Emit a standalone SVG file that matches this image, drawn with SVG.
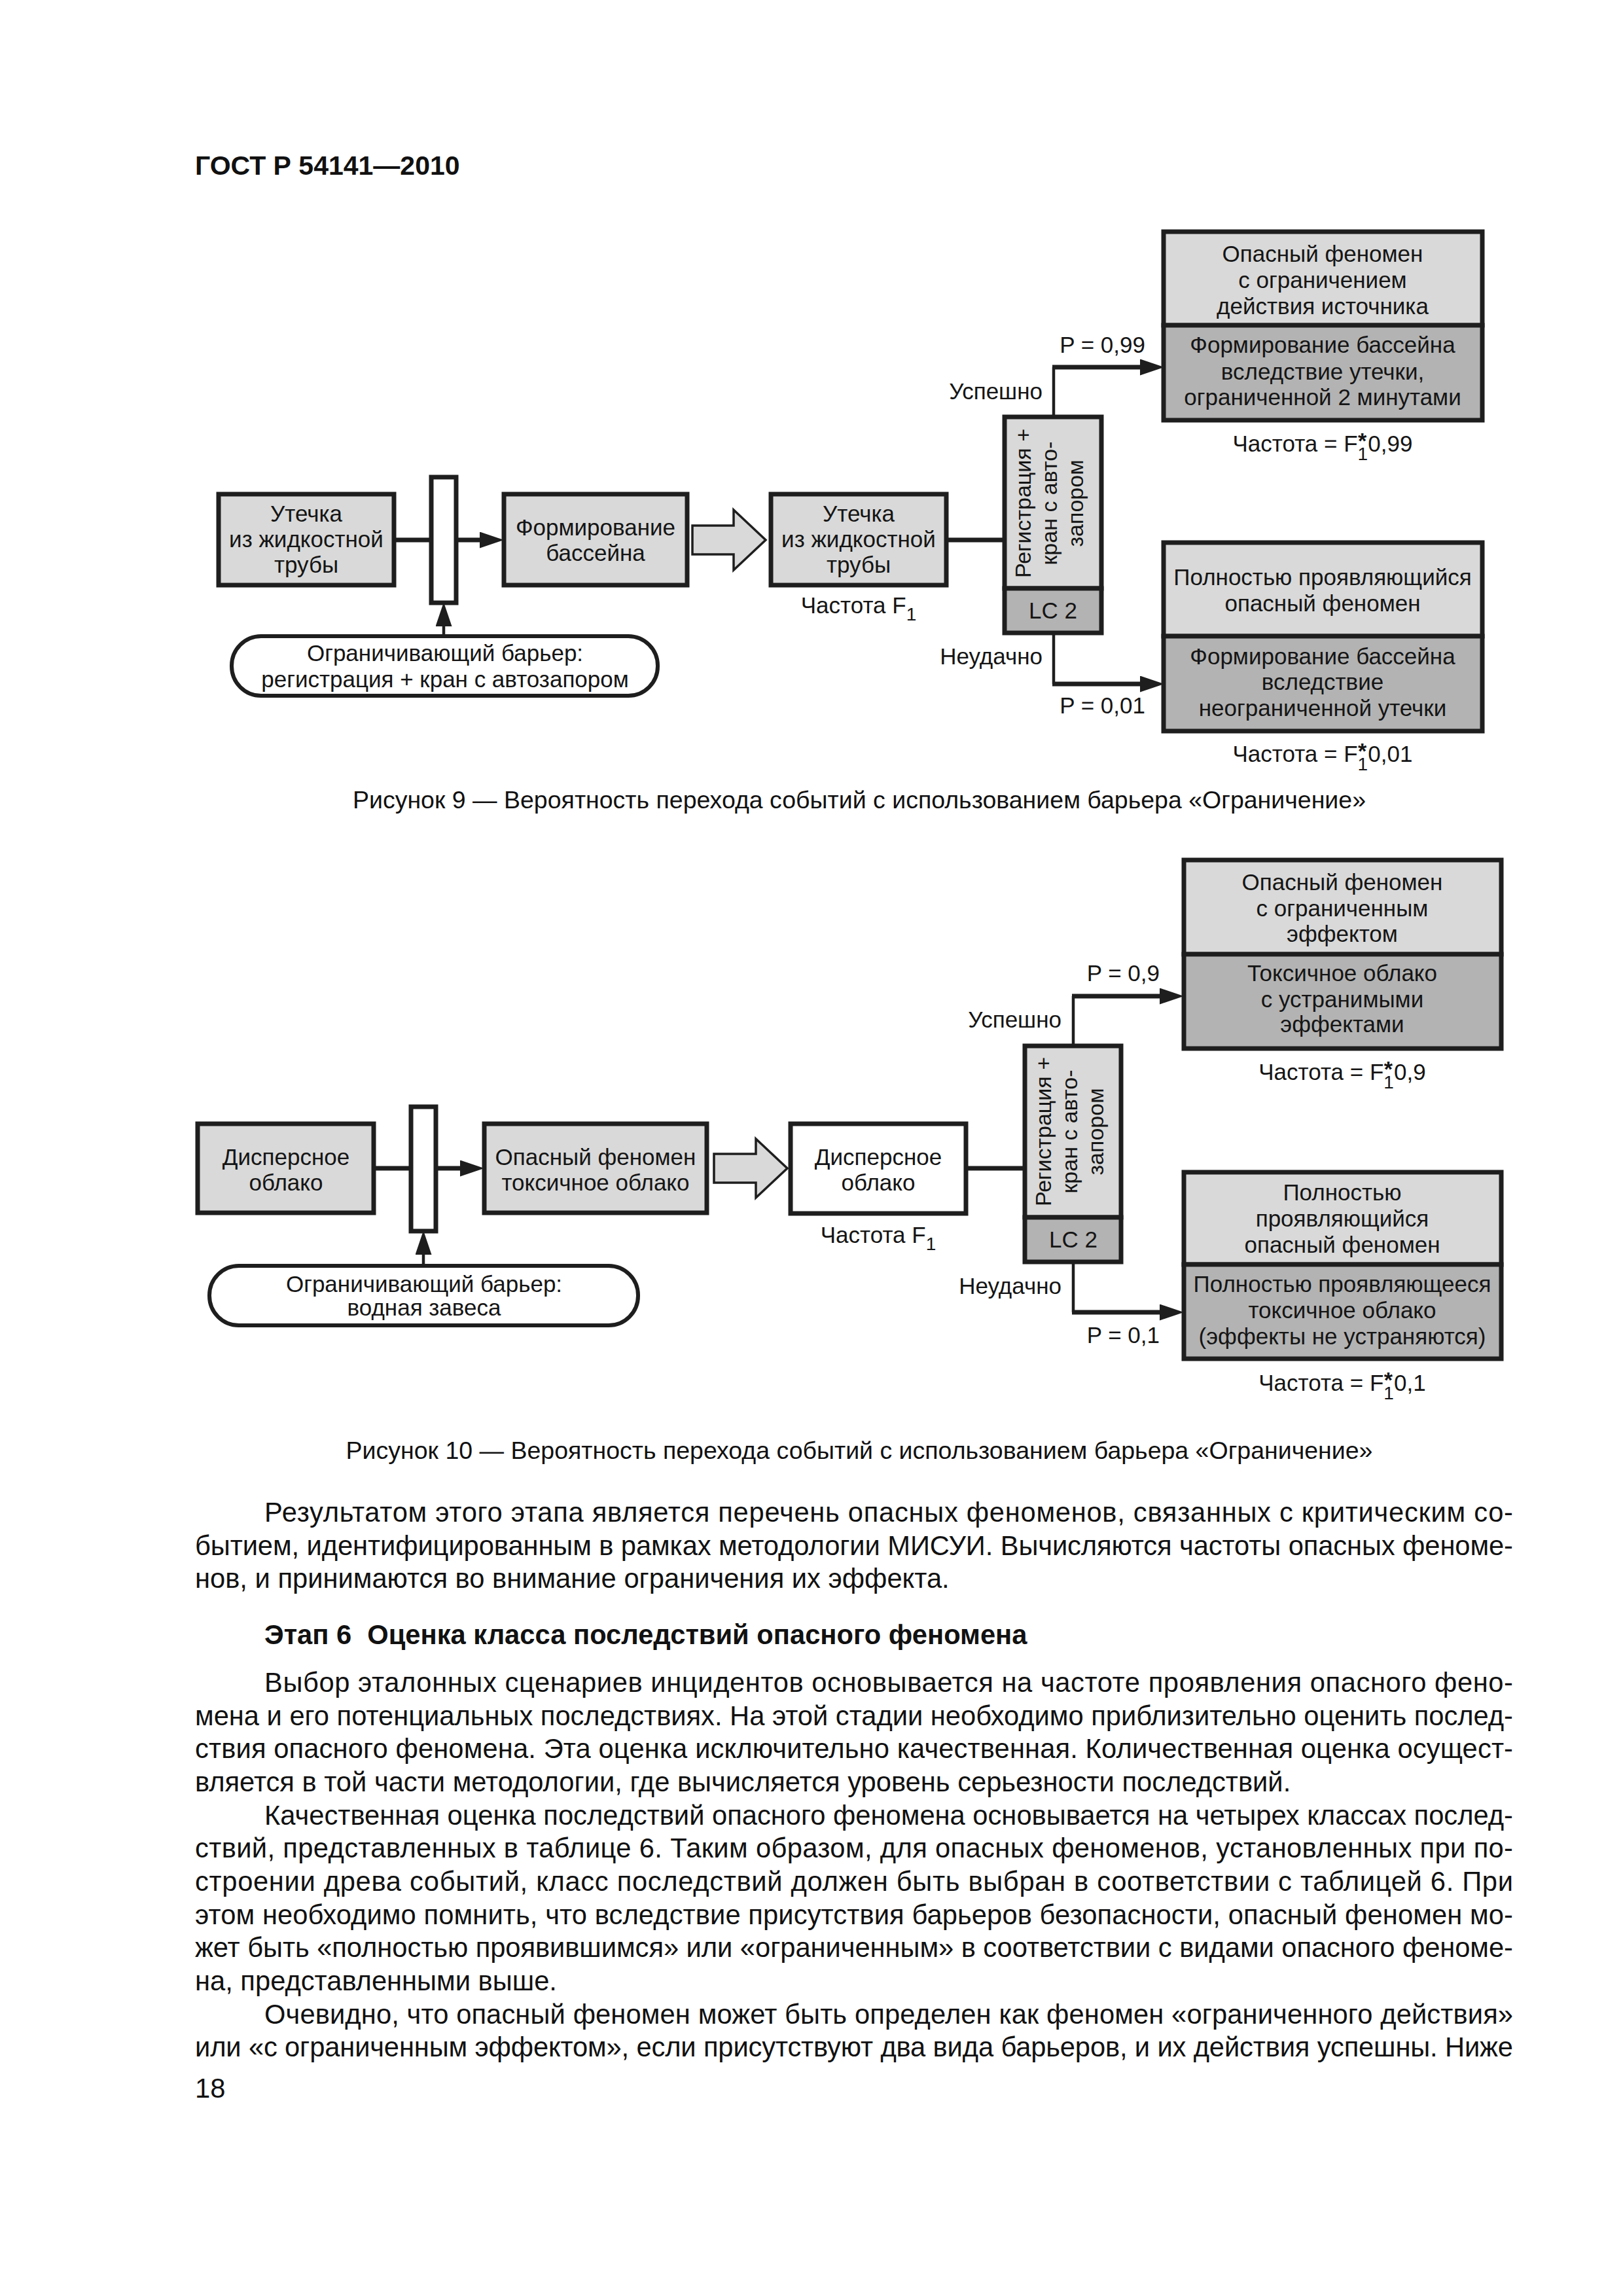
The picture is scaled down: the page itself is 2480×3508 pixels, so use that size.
<svg xmlns="http://www.w3.org/2000/svg" width="2480" height="3508" viewBox="0 0 2480 3508">
<defs>
<style>
text{font-family:"Liberation Sans",Arial,"DejaVu Sans",sans-serif;fill:#151515}
.f{font-size:35px;text-anchor:middle}
.r{font-size:35px;text-anchor:end}
.v{font-size:34px;text-anchor:middle}
.cap{font-size:37.5px;text-anchor:middle;fill:#111}
.body{font-size:41.7px;fill:#111}
.hd{font-size:41px;font-weight:bold;fill:#111}
.box{stroke:#1e1e1e;stroke-width:7}
.lt{fill:#d9d9d9}
.dk{fill:#b3b3b3}
.wh{fill:#fff}
.ln{fill:none;stroke:#1e1e1e;stroke-width:7}
.thin{fill:none;stroke:#1e1e1e;stroke-width:4.5}
.blk{fill:#d9d9d9;stroke:#1e1e1e;stroke-width:3.5}
.stad{fill:#fff;stroke:#1e1e1e;stroke-width:6}
.sub{font-size:28px}
.star{font-size:34px;font-weight:bold}
</style>
<marker id="ah" markerUnits="userSpaceOnUse" markerWidth="37" markerHeight="25" refX="4" refY="12.5" orient="auto" viewBox="0 0 37 25">
<path d="M0,0 L37,12.5 L0,25 Z" fill="#1e1e1e"/>
</marker>
</defs>
<rect width="2480" height="3508" fill="#fff"/>

<text class="hd" x="298" y="267">ГОСТ Р 54141—2010</text>

<g id="connectors">
<path class="ln" d="M602,825 H659"/>
<path class="ln" d="M697,825 H737" marker-end="url(#ah)"/>
<path class="thin" d="M678,972 V953" marker-end="url(#ah)"/>
<polygon class="blk" points="1058,803 1121,803 1121,779 1170,825 1121,871 1121,847 1058,847"/>
<path class="ln" d="M1446,825 H1535"/>
<path class="thin" d="M1610,637 V561"/>
<path class="ln" d="M1608,561 H1746" marker-end="url(#ah)"/>
<path class="thin" d="M1610,967 V1045"/>
<path class="ln" d="M1608,1045 H1746" marker-end="url(#ah)"/>

<path class="ln" d="M571,1785 H628"/>
<path class="ln" d="M666,1785 H707" marker-end="url(#ah)"/>
<path class="thin" d="M647,1934 V1913" marker-end="url(#ah)"/>
<polygon class="blk" points="1091,1763 1155,1763 1155,1740 1203,1785 1155,1830 1155,1807 1091,1807"/>
<path class="ln" d="M1476,1785 H1566"/>
<path class="thin" d="M1640,1598 V1522"/>
<path class="ln" d="M1638,1522 H1776" marker-end="url(#ah)"/>
<path class="thin" d="M1640,1928 V2005"/>
<path class="ln" d="M1638,2005 H1776" marker-end="url(#ah)"/>
</g>

<!-- ===== Figure 9 ===== -->
<g id="f9-leak">
<rect class="box lt" x="334" y="755" width="268" height="139"/>
<text class="f" x="468" y="797">Утечка</text>
<text class="f" x="468" y="836">из жидкостной</text>
<text class="f" x="468" y="875">трубы</text>
</g>
<g id="f9-barrier">
<rect class="box wh" x="659" y="729" width="38" height="192"/>
</g>
<g id="f9-barrier-label">
<rect class="stad" x="354" y="972" width="651" height="91" rx="45" ry="45"/>
<text class="f" x="680" y="1010">Ограничивающий барьер:</text>
<text class="f" x="680" y="1050">регистрация + кран с автозапором</text>
</g>
<g id="f9-pool">
<rect class="box lt" x="770" y="755" width="280" height="139"/>
<text class="f" x="910" y="818">Формирование</text>
<text class="f" x="910" y="857">бассейна</text>
</g>
<g id="f9-leak2">
<rect class="box lt" x="1178" y="755" width="268" height="139"/>
<text class="f" x="1312" y="797">Утечка</text>
<text class="f" x="1312" y="836">из жидкостной</text>
<text class="f" x="1312" y="875">трубы</text>
<text class="f" x="1312" y="937">Частота F<tspan class="sub" dy="11">1</tspan></text>
</g>
<g id="f9-lc2">
<rect class="box lt" x="1535" y="637" width="148" height="262"/>
<rect class="box dk" x="1535" y="899" width="148" height="68"/>
<text class="v" transform="translate(1575,769) rotate(-90)">Регистрация +</text>
<text class="v" transform="translate(1615,769) rotate(-90)">кран с авто-</text>
<text class="v" transform="translate(1655,769) rotate(-90)">запором</text>
<text class="f" x="1609" y="945">LC 2</text>
</g>
<text class="r" x="1750" y="539">P = 0,99</text>
<text class="r" x="1593" y="610">Успешно</text>
<text class="r" x="1593" y="1015">Неудачно</text>
<text class="r" x="1750" y="1090">P = 0,01</text>
<g id="f9-limited">
<rect class="box lt" x="1778" y="354" width="487" height="143"/>
<rect class="box dk" x="1778" y="497" width="487" height="145"/>
<text class="f" x="2021" y="400">Опасный феномен</text>
<text class="f" x="2021" y="440">с ограничением</text>
<text class="f" x="2021" y="480">действия источника</text>
<text class="f" x="2021" y="539">Формирование бассейна</text>
<text class="f" x="2021" y="580">вследствие утечки,</text>
<text class="f" x="2021" y="619">ограниченной 2 минутами</text>
<text class="f" x="2021" y="690">Частота = F<tspan class="sub" dy="13">1</tspan><tspan class="star" dx="-15" dy="-18">*</tspan><tspan dy="5" dx="2">0,99</tspan></text>
</g>
<g id="f9-full">
<rect class="box lt" x="1778" y="829" width="487" height="143"/>
<rect class="box dk" x="1778" y="972" width="487" height="145"/>
<text class="f" x="2021" y="894">Полностью проявляющийся</text>
<text class="f" x="2021" y="934">опасный феномен</text>
<text class="f" x="2021" y="1015">Формирование бассейна</text>
<text class="f" x="2021" y="1054">вследствие</text>
<text class="f" x="2021" y="1094">неограниченной утечки</text>
<text class="f" x="2021" y="1164">Частота = F<tspan class="sub" dy="13">1</tspan><tspan class="star" dx="-15" dy="-18">*</tspan><tspan dy="5" dx="2">0,01</tspan></text>
</g>
<text class="cap" x="1313" y="1235">Рисунок 9 — Вероятность перехода событий с использованием барьера «Ограничение»</text>

<!-- ===== Figure 10 ===== -->
<g id="f10-cloud">
<rect class="box lt" x="302" y="1717" width="269" height="136"/>
<text class="f" x="437" y="1780">Дисперсное</text>
<text class="f" x="437" y="1819">облако</text>
</g>
<g id="f10-barrier">
<rect class="box wh" x="628" y="1691" width="38" height="190"/>
</g>
<g id="f10-barrier-label">
<rect class="stad" x="320" y="1934" width="655" height="91" rx="45" ry="45"/>
<text class="f" x="648" y="1974">Ограничивающий барьер:</text>
<text class="f" x="648" y="2010">водная завеса</text>
</g>
<g id="f10-toxic">
<rect class="box lt" x="740" y="1717" width="340" height="136"/>
<text class="f" x="910" y="1780">Опасный феномен</text>
<text class="f" x="910" y="1819">токсичное облако</text>
</g>
<g id="f10-cloud2">
<rect class="box wh" x="1208" y="1717" width="268" height="137"/>
<text class="f" x="1342" y="1780">Дисперсное</text>
<text class="f" x="1342" y="1819">облако</text>
<text class="f" x="1342" y="1899">Частота F<tspan class="sub" dy="11">1</tspan></text>
</g>
<g id="f10-lc2">
<rect class="box lt" x="1566" y="1598" width="147" height="262"/>
<rect class="box dk" x="1566" y="1860" width="147" height="68"/>
<text class="v" transform="translate(1606,1729) rotate(-90)">Регистрация +</text>
<text class="v" transform="translate(1646,1729) rotate(-90)">кран с авто-</text>
<text class="v" transform="translate(1686,1729) rotate(-90)">запором</text>
<text class="f" x="1640" y="1906">LC 2</text>
</g>
<text class="r" x="1772" y="1499">P = 0,9</text>
<text class="r" x="1622" y="1570">Успешно</text>
<text class="r" x="1622" y="1977">Неудачно</text>
<text class="r" x="1772" y="2052">P = 0,1</text>
<g id="f10-limited">
<rect class="box lt" x="1809" y="1314" width="485" height="144"/>
<rect class="box dk" x="1809" y="1458" width="485" height="144"/>
<text class="f" x="2051" y="1360">Опасный феномен</text>
<text class="f" x="2051" y="1400">с ограниченным</text>
<text class="f" x="2051" y="1439">эффектом</text>
<text class="f" x="2051" y="1499">Токсичное облако</text>
<text class="f" x="2051" y="1539">с устранимыми</text>
<text class="f" x="2051" y="1577">эффектами</text>
<text class="f" x="2051" y="1650">Частота = F<tspan class="sub" dy="13">1</tspan><tspan class="star" dx="-15" dy="-18">*</tspan><tspan dy="5" dx="2">0,9</tspan></text>
</g>
<g id="f10-full">
<rect class="box lt" x="1809" y="1791" width="485" height="141"/>
<rect class="box dk" x="1809" y="1932" width="485" height="144"/>
<text class="f" x="2051" y="1834">Полностью</text>
<text class="f" x="2051" y="1874">проявляющийся</text>
<text class="f" x="2051" y="1914">опасный феномен</text>
<text class="f" x="2051" y="1974">Полностью проявляющееся</text>
<text class="f" x="2051" y="2014">токсичное облако</text>
<text class="f" x="2051" y="2054">(эффекты не устраняются)</text>
<text class="f" x="2051" y="2125">Частота = F<tspan class="sub" dy="13">1</tspan><tspan class="star" dx="-15" dy="-18">*</tspan><tspan dy="5" dx="2">0,1</tspan></text>
</g>
<text class="cap" x="1313" y="2229">Рисунок 10 — Вероятность перехода событий с использованием барьера «Ограничение»</text>

<!-- ===== Body text ===== -->
<text class="body" x="404" y="2325" textLength="1908" lengthAdjust="spacing">Результатом этого этапа является перечень опасных феноменов, связанных с критическим со-</text>
<text class="body" x="298" y="2376" textLength="2014" lengthAdjust="spacing">бытием, идентифицированным в рамках методологии МИСУИ. Вычисляются частоты опасных феноме-</text>
<text class="body" x="298" y="2426">нов, и принимаются во внимание ограничения их эффекта.</text>
<text class="body" x="404" y="2512" font-weight="bold">Этап 6<tspan dx="24">Оценка класса последствий опасного феномена</tspan></text>
<text class="body" x="404" y="2585" textLength="1908" lengthAdjust="spacing">Выбор эталонных сценариев инцидентов основывается на частоте проявления опасного фено-</text>
<text class="body" x="298" y="2636" textLength="2014" lengthAdjust="spacing">мена и его потенциальных последствиях. На этой стадии необходимо приблизительно оценить послед-</text>
<text class="body" x="298" y="2686" textLength="2014" lengthAdjust="spacing">ствия опасного феномена. Эта оценка исключительно качественная. Количественная оценка осущест-</text>
<text class="body" x="298" y="2737">вляется в той части методологии, где вычисляется уровень серьезности последствий.</text>
<text class="body" x="404" y="2788" textLength="1908" lengthAdjust="spacing">Качественная оценка последствий опасного феномена основывается на четырех классах послед-</text>
<text class="body" x="298" y="2838" textLength="2014" lengthAdjust="spacing">ствий, представленных в таблице 6. Таким образом, для опасных феноменов, установленных при по-</text>
<text class="body" x="298" y="2889" textLength="2014" lengthAdjust="spacing">строении древа событий, класс последствий должен быть выбран в соответствии с таблицей 6. При</text>
<text class="body" x="298" y="2940" textLength="2014" lengthAdjust="spacing">этом необходимо помнить, что вследствие присутствия барьеров безопасности, опасный феномен мо-</text>
<text class="body" x="298" y="2990" textLength="2014" lengthAdjust="spacing">жет быть «полностью проявившимся» или «ограниченным» в соответствии с видами опасного феноме-</text>
<text class="body" x="298" y="3041">на, представленными выше.</text>
<text class="body" x="404" y="3092" textLength="1908" lengthAdjust="spacing">Очевидно, что опасный феномен может быть определен как феномен «ограниченного действия»</text>
<text class="body" x="298" y="3142" textLength="2014" lengthAdjust="spacing">или «с ограниченным эффектом», если присутствуют два вида барьеров, и их действия успешны. Ниже</text>
<text class="body" x="298" y="3205">18</text>
</svg>
